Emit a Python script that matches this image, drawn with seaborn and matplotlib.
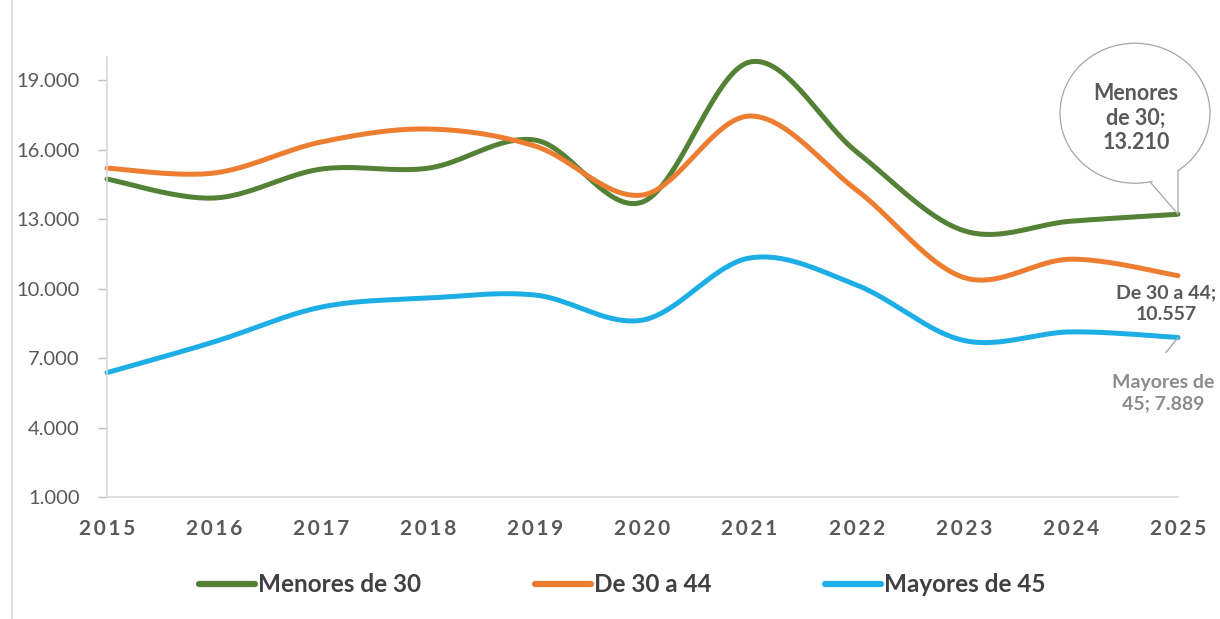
import numpy as np
import pandas as pd
import matplotlib
matplotlib.use("Agg")
import matplotlib.pyplot as plt
from matplotlib.lines import Line2D
from matplotlib.patches import Ellipse, Polygon
from matplotlib.transforms import IdentityTransform
from matplotlib.ticker import FuncFormatter, FixedLocator
import seaborn as sns

# ---------------- data ----------------
years = [2015, 2016, 2017, 2018, 2019, 2020, 2021, 2022, 2023, 2024, 2025]
menores_30 = [14730, 13910, 15160, 15200, 16410, 13740, 19780, 15900, 12500, 12910, 13210]
de_30_a_44 = [15200, 14990, 16330, 16890, 16150, 14040, 17450, 14250, 10480, 11270, 10557]
mayores_45 = [6370, 7700, 9200, 9590, 9720, 8640, 11320, 10150, 7760, 8130, 7889]
series_names = ["Menores de 30", "De 30 a 44", "Mayores de 45"]
y_ticks = [1000, 4000, 7000, 10000, 13000, 16000, 19000]

colors = {"Menores de 30": "#538135", "De 30 a 44": "#ED7D31", "Mayores de 45": "#1DAEE6"}


def fmt(v):
    return f"{v:,.0f}".replace(",", ".")


def smooth_curve(xs, ys, n=40):
    """Excel-style smoothed line (Catmull-Rom Bezier through the data points)."""
    xs = np.asarray(xs, float)
    ys = np.asarray(ys, float)
    P = np.column_stack([xs, ys])
    Pe = np.vstack([P[0], P, P[-1]])
    out = []
    t = np.linspace(0, 1, n)[:, None]
    for i in range(len(P) - 1):
        p0, p1, p2, p3 = Pe[i], Pe[i + 1], Pe[i + 2], Pe[i + 3]
        c1 = p1 + (p2 - p0) / 6.0
        c2 = p2 - (p3 - p1) / 6.0
        seg = ((1 - t) ** 3) * p1 + 3 * ((1 - t) ** 2) * t * c1 + 3 * (1 - t) * t ** 2 * c2 + t ** 3 * p2
        out.append(seg if i == 0 else seg[1:])
    out = np.vstack(out)
    return out[:, 0], out[:, 1]


sns.set_theme(style="white")
plt.rcParams["font.family"] = ["Lato", "DejaVu Sans"]

fig = plt.figure(figsize=(12.2, 6.19), dpi=100)
ax = fig.add_axes([107 / 1220, 1 - 497 / 619, (1178 - 107) / 1220, (497 - 57) / 619])

for name, vals in zip(series_names, [menores_30, de_30_a_44, mayores_45]):
    sx, sy = smooth_curve(years, vals)
    df = pd.DataFrame({"year": sx, "value": sy})
    sns.lineplot(data=df, x="year", y="value", color=colors[name], linewidth=3.6,
                 sort=False, estimator=None, label=name, ax=ax, clip_on=False,
                 solid_capstyle="round")

ax.set_xlim(2015, 2025)
ax.set_ylim(1000, 20000)
ax.set_xlabel("")
ax.set_ylabel("")

ax.yaxis.set_major_locator(FixedLocator(y_ticks))
ax.yaxis.set_major_formatter(FuncFormatter(lambda v, p: fmt(v)))
ax.set_xticks(years)
ax.set_xticklabels(["\u2009".join(str(y)) for y in years])

for lab in ax.get_xticklabels():
    lab.set_fontweight("bold")
    lab.set_fontsize(15)
    lab.set_color("#595959")
for lab in ax.get_yticklabels():
    lab.set_fontsize(14.5)
    lab.set_color("#595959")

ax.tick_params(axis="y", which="major", direction="out", length=6.5, width=1,
               color="#BFBFBF", pad=13, left=True)
ax.tick_params(axis="x", which="major", length=0, pad=16)

for s in ["top", "right"]:
    ax.spines[s].set_visible(False)
for s in ["left", "bottom"]:
    ax.spines[s].set_color("#D9D9D9")
    ax.spines[s].set_linewidth(1.2)
ax.grid(False)

# legend
handles = ax.get_lines()[:3]
leg = ax.legend(handles=handles, labels=series_names, loc="center",
                bbox_to_anchor=(0.51, 0.055), bbox_transform=fig.transFigure,
                ncol=3, frameon=False, handlelength=2.3, handletextpad=0.12,
                columnspacing=4.7,
                prop={"family": ["Lato", "DejaVu Sans"], "weight": "bold", "size": 17.5})
for t in leg.get_texts():
    t.set_color("#404040")
for h in leg.get_lines():
    h.set_linewidth(4.5)

# ---- speech-bubble callout for Menores de 30 (display pixel offsets) ----
px, py = ax.transData.transform((years[-1], menores_30[-1]))
ident = IdentityTransform()
cx, cy = px - 43, py + 101        # bubble centre
ew, eh = 150, 140                 # bubble size
edge = "#A6A6A6"


def on_ellipse(dx):
    return cy - (eh / 2) * np.sqrt(max(0.0, 1 - (dx / (ew / 2)) ** 2))


bl = (px - 28, on_ellipse(px - 28 - cx))
br = (px, on_ellipse(px - cx))
tip = (px, py)
ax.add_patch(Ellipse((cx, cy), ew, eh, transform=ident, fc="white", ec=edge,
                     lw=0.9, clip_on=False, zorder=6))
ax.add_patch(Polygon([(bl[0] + 1, bl[1] + 2.5), (br[0] - 0.5, br[1] + 2.5), tip],
                     closed=True, transform=ident, fc="white", ec="none",
                     clip_on=False, zorder=7))
ax.add_line(Line2D([bl[0], tip[0], br[0]], [bl[1], tip[1], br[1]], transform=ident,
                   color=edge, lw=0.9, clip_on=False, zorder=8))
ax.text(cx + 1, cy - 5, f"Menores\nde 30;\n{fmt(menores_30[-1])}", transform=ident,
        ha="center", va="center", fontsize=15.5, fontweight="bold", color="#595959",
        linespacing=1.22, zorder=9)

# label De 30 a 44
ax.annotate(f"De 30 a 44;\n{fmt(de_30_a_44[-1])}",
            xy=(years[-1], de_30_a_44[-1]), xycoords="data",
            xytext=(-12, -28), textcoords="offset pixels",
            ha="center", va="center", fontsize=14, fontweight="bold", color="#595959",
            linespacing=1.3, annotation_clip=False)

# label Mayores de 45 with leader line
ax.annotate("", xy=(years[-1], mayores_45[-1]), xycoords="data",
            xytext=(-12, -15), textcoords="offset pixels",
            arrowprops=dict(arrowstyle="-", color=edge, lw=1, shrinkA=0, shrinkB=0),
            annotation_clip=False)
ax.annotate(f"Mayores de\n45; {fmt(mayores_45[-1])}",
            xy=(years[-1], mayores_45[-1]), xycoords="data",
            xytext=(-15, -56), textcoords="offset pixels",
            ha="center", va="center", fontsize=14, fontweight="bold", color="#8C8C8C",
            linespacing=1.3, annotation_clip=False)

# chart area left border
fig.add_artist(Line2D([12 / 1220, 12 / 1220], [0, 1], color="#D9D9D9", lw=1.2,
                      transform=fig.transFigure))

fig.savefig("out.png", dpi=100)
